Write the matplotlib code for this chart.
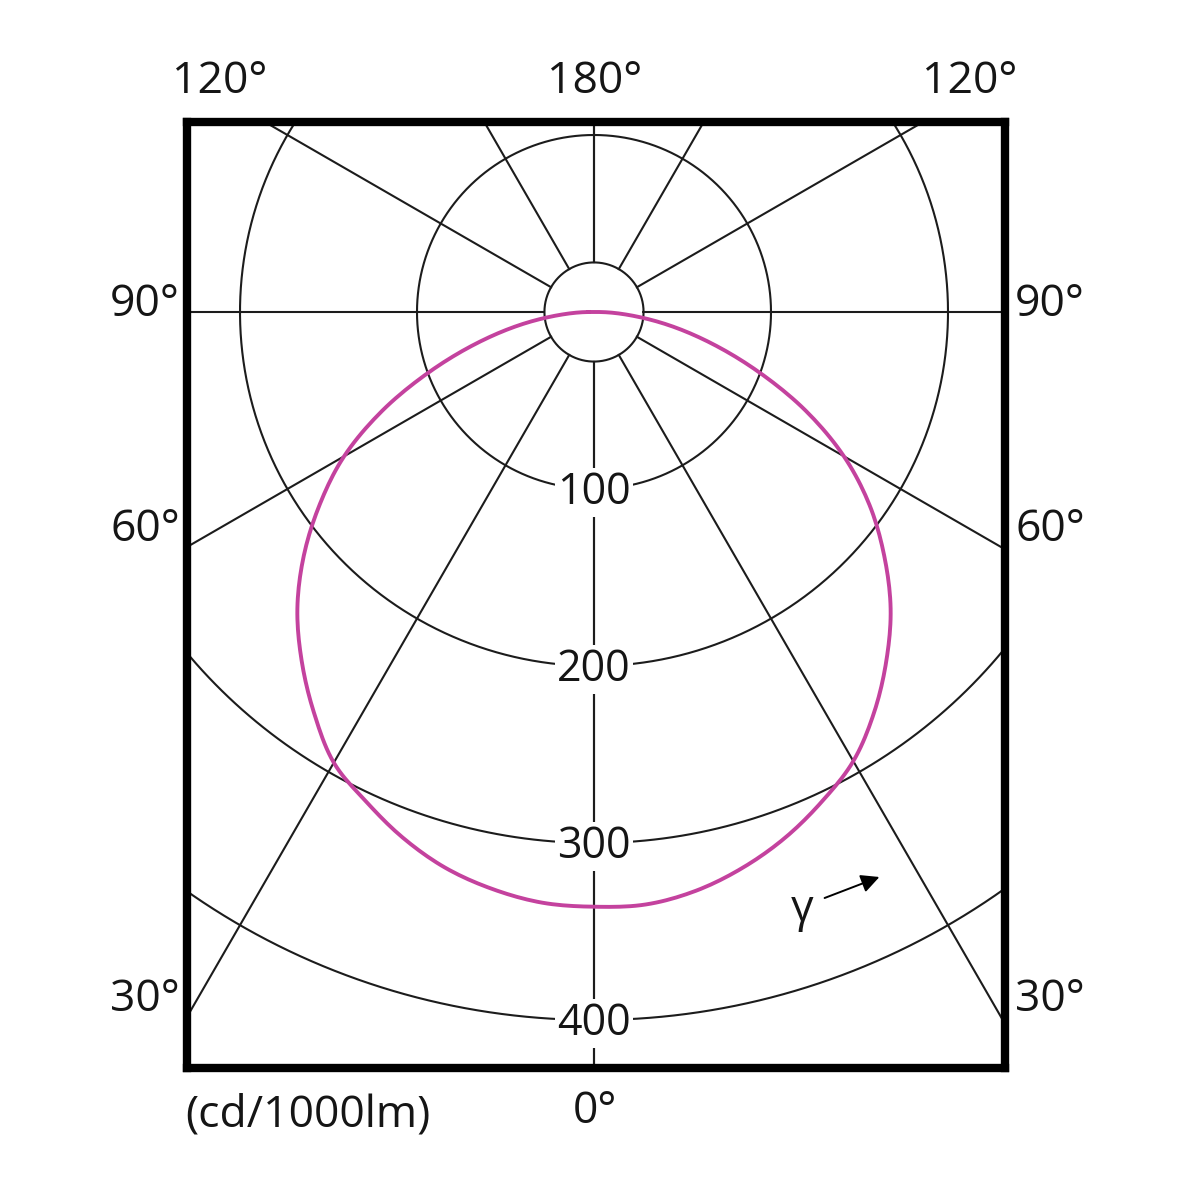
import numpy as np
import matplotlib
matplotlib.use('Agg')
from matplotlib import pyplot as plt

# intensity in cd/1000lm, gamma measured from straight down
gamma = [0, 5, 10, 15, 20, 25, 30, 35, 40, 45, 50, 55, 60, 65, 70, 75, 80, 85, 90]
c0 = [336, 336, 332, 325, 316, 305, 293, 276, 257, 237, 214, 190, 163, 132, 99, 69, 43, 20, 3]
c180 = [336, 335, 331, 325, 316, 305, 294, 276, 257, 237, 214, 189, 163, 132, 99, 69, 43, 20, 3]

rings = [100, 200, 300, 400]
inner_ring = 28
spokes = [0, 30, 60, 90, 120, 150, 180]
side_labels = ['30°', '60°', '90°']

plt.rcParams['font.family'] = ['Open Sans', 'DejaVu Sans']


def smooth(x, y, n=10):
    # catmull-rom through the read points, just for drawing
    p = np.column_stack([x, y])
    p = np.vstack([p[0], p, p[-1]])
    out = []
    s = np.linspace(0, 1, n, endpoint=False)[:, None]
    for i in range(1, len(p) - 2):
        p0, p1, p2, p3 = p[i - 1], p[i], p[i + 1], p[i + 2]
        out.append(0.5 * ((2 * p1) + (-p0 + p2) * s + (2 * p0 - 5 * p1 + 4 * p2 - p3) * s ** 2
                          + (-p0 + 3 * p1 - 3 * p2 + p3) * s ** 3))
    out.append(p[-2][None, :])
    out = np.vstack(out)
    return out[:, 0], out[:, 1]


fig = plt.figure(figsize=(12, 12), dpi=100)
# frame spans pixels 187..1005 x 122..1068, pole at (594, 312), 1.77 px per cd
scale = 1.77
ax = fig.add_axes([187 / 1200, 132 / 1200, 818 / 1200, 946 / 1200])
ax.set_xlim((187 - 594) / scale, (1005 - 594) / scale)
ax.set_ylim((312 - 1068) / scale, (312 - 122) / scale)
ax.set_aspect('equal')
ax.set_xticks([])
ax.set_yticks([])
for s in ax.spines.values():
    s.set_linewidth(6)
    s.set_color('black')

grid_kw = dict(color='#1c1c1c', lw=1.5, zorder=1)
t = np.linspace(0, 2 * np.pi, 721)
for r in [inner_ring] + rings:
    ax.plot(r * np.cos(t), r * np.sin(t), **grid_kw)

for g in spokes:
    a = np.radians(g)
    for sgn in (1, -1):
        x0, y0 = sgn * inner_ring * np.sin(a), -inner_ring * np.cos(a)
        x1, y1 = sgn * 900 * np.sin(a), -900 * np.cos(a)
        ax.plot([x0, x1], [y0, y1], **grid_kw)

# luminous intensity curve: signed angle, left half C180, right half C0
ang = np.concatenate([-np.array(gamma[::-1]), np.array(gamma[1:])])
inten = np.concatenate([np.array(c180[::-1]), np.array(c0[1:])])
sa, si = smooth(ang, inten)
sa = np.radians(sa)
cx = si * np.sin(sa)
cy = -si * np.cos(sa)
ax.plot(np.append(cx, cx[0]), np.append(cy, cy[0]), color='#c4429e', lw=2.8, zorder=3,
        solid_joinstyle='round')

for r in rings:
    ax.text(0, -r - 2, str(r), ha='center', va='center', fontsize=31, color='#151515',
            zorder=4, bbox=dict(facecolor='white', edgecolor='none', pad=2))

# gamma direction hint
ax.text((802 - 594) / scale, (312 - 910) / scale, 'γ', ha='center', va='center',
        fontsize=32, color='#151515')
ax.annotate('', xy=((882 - 594) / scale, (312 - 876) / scale),
            xytext=((822 - 594) / scale, (312 - 899) / scale),
            arrowprops=dict(arrowstyle='-|>,head_length=1.1,head_width=0.55',
                            color='black', lw=1.4))


def px(x, y):
    return x / 1200, 1 - y / 1200


txt_kw = dict(fontsize=32, color='#151515', va='center')
fig.text(*px(220, 82), '120°', ha='center', **txt_kw)
fig.text(*px(595, 82), '180°', ha='center', **txt_kw)
fig.text(*px(970, 82), '120°', ha='center', **txt_kw)
for lab, y in zip(side_labels, [1000, 530, 305]):
    fig.text(*px(180, y), lab, ha='right', **txt_kw)
    fig.text(*px(1015, y), lab, ha='left', **txt_kw)
fig.text(*px(595, 1112), '0°', ha='center', **txt_kw)
fig.text(*px(185, 1115), '(cd/1000lm)', ha='left', **txt_kw)

fig.savefig('out.png', dpi=100, facecolor='white')
